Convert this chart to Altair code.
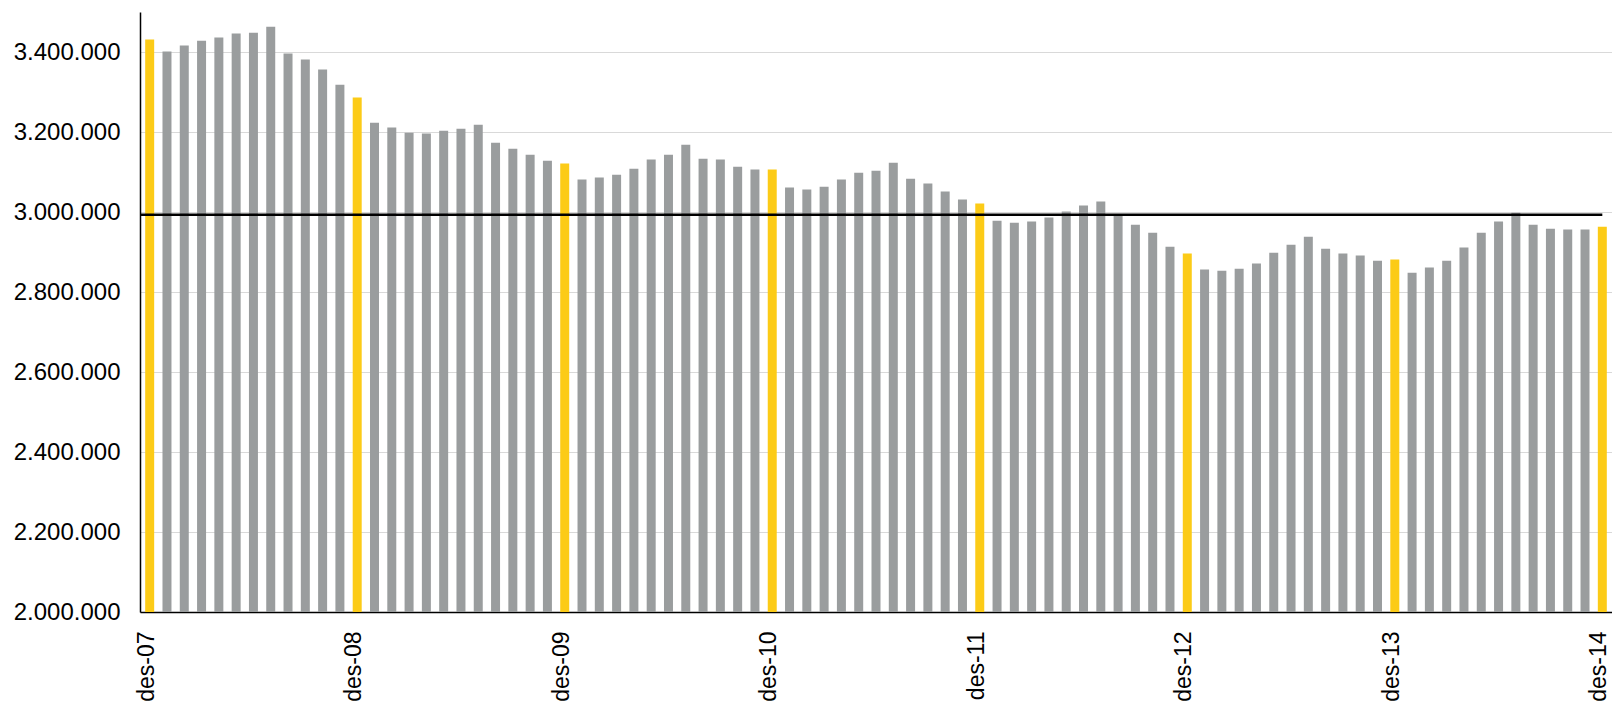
import altair as alt
import pandas as pd

# ---- data -------------------------------------------------------------
month_names = ["jan", "feb", "mar", "apr", "mai", "jun",
               "jul", "aug", "sep", "okt", "nov", "des"]
years = ["08", "09", "10", "11", "12", "13", "14"]
periods = ["des-07"] + [f"{m}-{y}" for y in years for m in month_names]

values = [
    3431000,
    3401000, 3416000, 3428000, 3436000, 3446000, 3448000,
    3463000, 3396000, 3381000, 3356000, 3318000, 3286000,
    3223000, 3211000, 3198000, 3196000, 3203000, 3208000,
    3218000, 3173000, 3158000, 3143000, 3128000, 3121000,
    3081000, 3086000, 3093000, 3108000, 3131000, 3143000,
    3168000, 3133000, 3131000, 3113000, 3106000, 3106000,
    3061000, 3056000, 3063000, 3081000, 3098000, 3103000,
    3123000, 3083000, 3071000, 3051000, 3031000, 3021000,
    2978000, 2973000, 2976000, 2986000, 3001000, 3016000,
    3026000, 2990000, 2968000, 2948000, 2913000, 2896000,
    2856000, 2853000, 2858000, 2871000, 2898000, 2918000,
    2938000, 2908000, 2896000, 2891000, 2878000, 2881000,
    2848000, 2861000, 2878000, 2911000, 2948000, 2976000,
    2998000, 2968000, 2958000, 2956000, 2956000, 2963000,
]

tick_labels = ["des-07", "des-08", "des-09", "des-10",
               "des-11", "des-12", "des-13", "des-14"]
y_ticks = [2000000, 2200000, 2400000, 2600000, 2800000, 3000000, 3200000, 3400000]
y_min, y_max = 2000000, 3500000
average_level = 2993000

YELLOW = "#FCCB17"
GRAY = "#9A9D9E"
FONT = "Liberation Sans"

df = pd.DataFrame({"period": periods, "value": values})
avg_df = pd.DataFrame({"period": [periods[-1]], "value": [average_level]})

x_scale = alt.Scale(domain=periods, paddingInner=0.48, paddingOuter=0.3)
y_scale = alt.Scale(domain=[y_min, y_max], nice=False, zero=False)

bars = alt.Chart(df).mark_bar().encode(
    x=alt.X(
        "period:N",
        scale=x_scale,
        axis=alt.Axis(
            values=tick_labels,
            labelAngle=-90,
            labelAlign="right",
            labelBaseline="middle",
            labelPadding=19,
            labelOffset=-3,
            labelFontSize=23,
            labelFont=FONT,
            labelColor="black",
            ticks=False,
            domainColor="black",
            domainWidth=1.5,
            grid=False,
            title=None,
        ),
    ),
    y=alt.Y(
        "value:Q",
        scale=y_scale,
        axis=alt.Axis(
            values=y_ticks,
            format=",d",
            labelFontSize=24,
            labelFont=FONT,
            labelColor="black",
            labelPadding=20,
            ticks=False,
            domainColor="black",
            domainWidth=1.5,
            grid=True,
            gridColor="#d9d9d9",
            gridWidth=1.2,
            title=None,
        ),
    ),
    y2=alt.datum(y_min),
    color=alt.when(alt.expr.indexof(alt.datum.period, "des") == 0)
    .then(alt.value(YELLOW))
    .otherwise(alt.value(GRAY)),
)

avg_rule = alt.Chart(avg_df).mark_rule(color="black", strokeWidth=2.4).encode(
    x=alt.X("period:N", bandPosition=0.5),
    x2=alt.value(0),
    y=alt.Y("value:Q"),
)

chart = (
    alt.layer(bars, avg_rule)
    .properties(
        width=1472,
        height=600,
        padding={"left": 132, "top": 4, "right": 0, "bottom": 91},
        autosize=alt.AutoSizeParams(type="none"),
        background="white",
    )
    .configure(
        locale={
            "number": {
                "decimal": ",",
                "thousands": ".",
                "grouping": [3],
                "currency": ["", " kr"],
            }
        }
    )
    .configure_view(stroke=None)
)

chart.save("out.html", embed_options={"renderer": "svg", "actions": False})
